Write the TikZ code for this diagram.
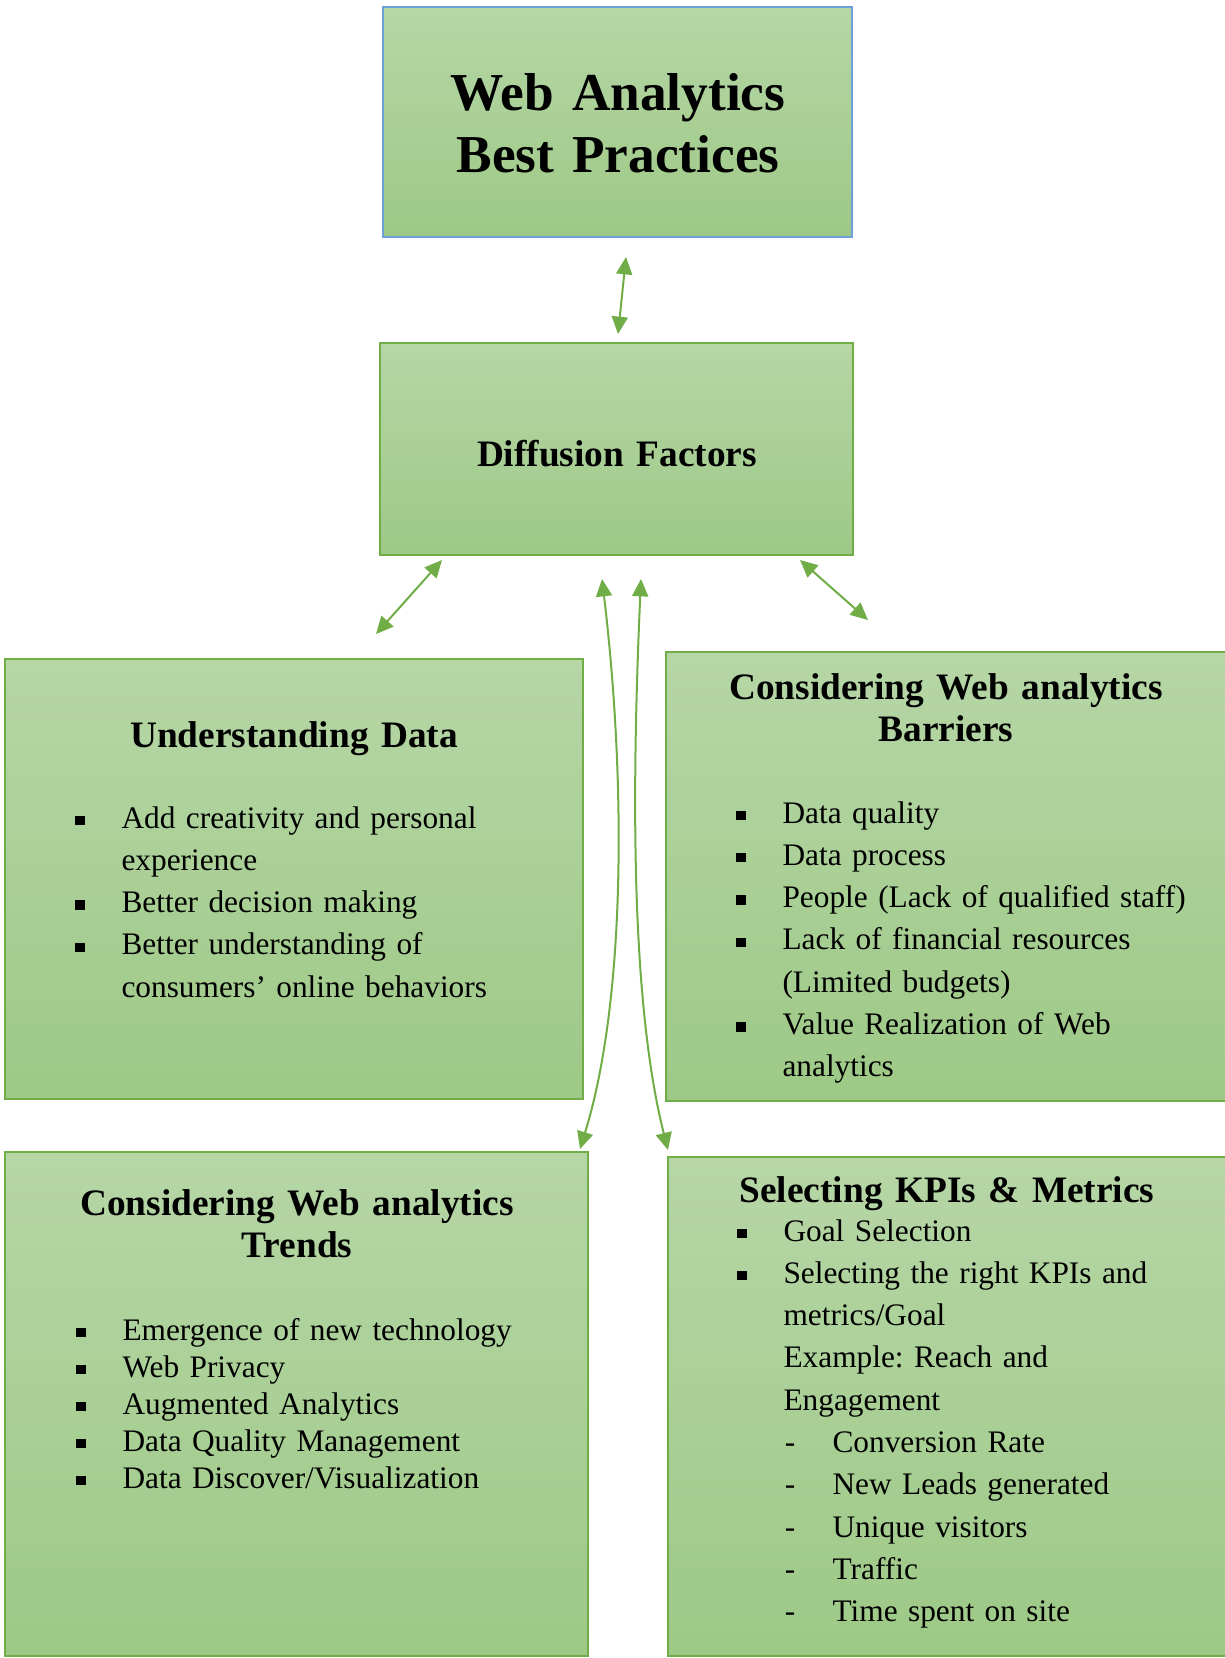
\documentclass[tikz,border=0pt]{standalone}
\usepackage{fontspec}
\setmainfont{Liberation Serif}
\usetikzlibrary{arrows.meta,fit}

\definecolor{wagreen}{RGB}{112,173,71}
\definecolor{wablue}{RGB}{110,159,216}
\definecolor{boxtop}{RGB}{182,214,166}
\definecolor{boxbot}{RGB}{157,201,134}

\newcommand{\sqbul}{\leavevmode\llap{\rule[1.1pt]{3.5pt}{3.5pt}\hspace{13.8pt}}}
\newcommand{\dashbul}{\hspace*{18.4pt}\llap{-\hspace{14pt}}}

\tikzset{
  box/.style={draw=wagreen, line width=0.8pt,
    top color=boxtop, bottom color=boxbot, inner sep=0pt},
  boxhead/.style={anchor=base, text width=250pt, align=center,
    inner sep=0pt, font=\fontsize{14}{15.86}\selectfont\bfseries},
  itemlist/.style={anchor=base west, text width=175pt, align=left,
    inner sep=0pt, font=\fontsize{11.75}{15.86}\selectfont},
  biarrow/.style={draw=wagreen, line width=0.75pt,
    {Triangle[length=6.5pt,width=6pt]}-{Triangle[length=6.5pt,width=6pt]}},
}

\begin{document}
\frenchspacing
\begin{tikzpicture}[x=0.375pt,y=-0.375pt]
\clip (0,0) rectangle (1225,1658);

\node[box, draw=wablue, fit={(383,7) (852,237)}] (best) {};
\node[box, fit={(380,343) (853,555)}] (diffusion) {};
\node[box, fit={(5,659) (583,1099)}] (understand) {};
\node[box, fit={(666,652) (1227,1101)}] (barriers) {};
\node[box, fit={(5,1152) (588,1656)}] (trends) {};
\node[box, fit={(668,1157) (1227,1656)}] (kpis) {};

\node[boxhead, font=\fontsize{20}{23.25}\selectfont\bfseries] (besttext)
  at (618,110) {Web Analytics\\Best Practices};
\node[boxhead] (diffusiontext) at (617,466) {Diffusion Factors};

\node[boxhead] (understandhead) at (294,747) {Understanding Data};
\node[itemlist] (understandlist) at (121,828)
  {\sqbul Add creativity and personal\\
   experience\\
   \sqbul Better decision making\\
   \sqbul Better understanding of\\
   consumers’ online behaviors};

\node[boxhead] (barriershead) at (946,699)
  {Considering Web analytics\\Barriers};
\node[itemlist] (barrierslist) at (782,823)
  {\sqbul Data quality\\
   \sqbul Data process\\
   \sqbul People (Lack of qualified staff)\\
   \sqbul Lack of financial resources\\
   (Limited budgets)\\
   \sqbul Value Realization of Web\\
   analytics};

\node[boxhead] (trendshead) at (297,1215)
  {Considering Web analytics\\Trends};
\node[itemlist, font=\fontsize{11.75}{13.9}\selectfont] (trendslist)
  at (122,1340)
  {\sqbul Emergence of new technology\\
   \sqbul Web Privacy\\
   \sqbul Augmented Analytics\\
   \sqbul Data Quality Management\\
   \sqbul Data Discover/Visualization};

\node[boxhead] (kpishead) at (947,1202) {Selecting KPIs \& Metrics};
\node[itemlist] (kpislist) at (783,1241)
  {\sqbul Goal Selection\\
   \sqbul Selecting the right KPIs and\\
   metrics/Goal\\
   Example: Reach and\\
   Engagement\\
   \dashbul Conversion Rate\\
   \dashbul New Leads generated\\
   \dashbul Unique visitors\\
   \dashbul Traffic\\
   \dashbul Time spent on site};

\coordinate (bestend) at (626,257);
\coordinate (diffusiontop) at (618,334);
\coordinate (diffusionleft) at (442,560);
\coordinate (understandend) at (376,634);
\coordinate (diffusionright) at (800,560);
\coordinate (barriersend) at (868,620);
\coordinate (trendsup) at (602,579);
\coordinate (trendsend) at (580,1149);
\coordinate (kpisup) at (641,579);
\coordinate (kpisend) at (668,1150);

\draw[biarrow] (bestend) -- (diffusiontop);
\draw[biarrow] (diffusionleft) -- (understandend);
\draw[biarrow] (diffusionright) -- (barriersend);
\draw[biarrow]
  (trendsup) .. controls (626,780) and (626,1000) .. (trendsend);
\draw[biarrow]
  (kpisup) .. controls (632,780) and (630,1000) .. (kpisend);
\end{tikzpicture}
\end{document}
